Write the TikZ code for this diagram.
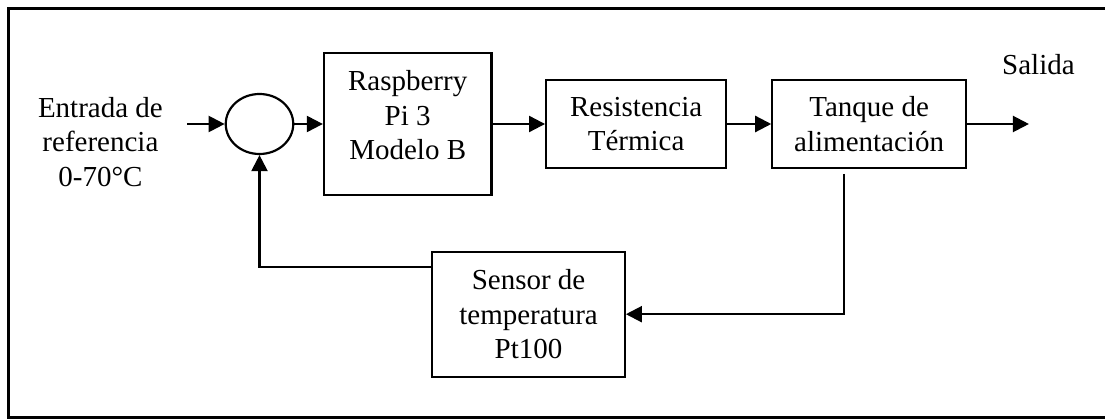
\documentclass[tikz,border=0pt]{standalone}
\usepackage{fontspec}
\setmainfont{Liberation Serif}
\usepackage{tikz}
\usetikzlibrary{arrows.meta,positioning,shapes.geometric}

\begin{document}
\begin{tikzpicture}[
  node distance=0.7cm,
  font=\fontsize{16.5}{19.6}\selectfont,
  block/.style={rectangle, draw=black, line width=1.25pt, align=center, inner sep=0pt},
  junction/.style={ellipse, draw=black, line width=1.25pt, minimum width=1.35cm, minimum height=1.2cm, inner sep=0pt},
  txt/.style={align=center, inner sep=0pt},
  arrow/.style={-{Triangle[length=0.32cm,width=0.32cm]}, line width=1.25pt}
]
\useasboundingbox (0,0) rectangle (22.1,-8.38);
\draw[line width=1.25pt] (22.1,-0.17) -- (0.17,-0.17) -- (0.17,-8.35) -- (22.1,-8.35);

\node[junction] (sum) at (5.19,-2.48) {};
\node[block, right=0.57cm of sum, minimum width=3.35cm, minimum height=2.84cm, text depth=0.35cm] (rpi) {Raspberry\\Pi 3\\Modelo B};
\node[block, right=1.05cm of rpi, minimum width=3.6cm, minimum height=1.75cm] (res) {Resistencia\\Térmica};
\node[block, right=0.88cm of res, minimum width=3.87cm, minimum height=1.75cm] (tank) {Tanque de\\alimentación};
\node[block, below=1.09cm of rpi.south east, xshift=0.72cm, minimum width=3.85cm, minimum height=2.5cm] (sen) {Sensor de\\temperatura\\Pt100};
\coordinate[left=0.75cm of sum] (in);
\coordinate[right=1.24cm of tank] (out);
\node[txt, left=1.23cm of sum, yshift=-0.36cm] (ref) {Entrada de\\referencia\\0-70°C};
\node[txt, above=0.98cm of out, anchor=base, xshift=0.19cm] (sal) {Salida};

\draw[arrow] (in) -- (sum);
\draw[arrow] (sum) -- (rpi);
\draw[arrow] (rpi) -- (res);
\draw[arrow] (res) -- (tank);
\draw[arrow] (tank) -- (out);
\draw[arrow, shorten <=0.1cm] ([xshift=-0.5cm]tank.south) |- (sen.east);
\draw[arrow] ([yshift=0.95cm]sen.west) -| (sum.south);
\end{tikzpicture}
\end{document}
